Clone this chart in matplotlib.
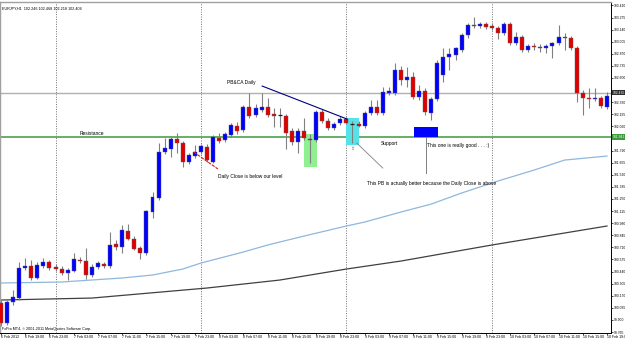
import matplotlib
matplotlib.use("Agg")
import matplotlib.pyplot as plt
from matplotlib.patches import Rectangle
import numpy as np

plt.rcParams['font.family'] = ['Liberation Sans', 'DejaVu Sans']

# ---- data (EURJPY H1, 6 Feb 15:00 -> 10 Feb 19:00) ----
opens = [100.089, 99.865, 100.100, 100.144, 100.479, 100.501, 100.368, 100.501, 100.546, 100.490,
         100.468, 100.423, 100.446, 100.568, 100.557, 100.401, 100.490, 100.524, 100.501, 100.747,
         100.714, 100.892, 100.803, 100.702, 100.647, 101.104, 101.260, 101.774, 101.807, 101.919,
         101.874, 101.662, 101.729, 101.774, 101.830, 101.662, 101.930, 101.908, 101.963, 102.064,
         102.019, 102.276, 102.187, 102.242, 102.276, 102.198, 102.187, 102.175, 102.008, 101.885,
         102.008, 101.919, 101.908, 102.220, 102.120, 102.042, 102.097, 102.142, 102.086, 102.086,
         102.064, 102.209, 102.276, 102.209, 102.432, 102.432, 102.689, 102.577, 102.611, 102.387,
         102.454, 102.209, 102.365, 102.633, 102.834, 102.856, 102.912, 103.079, 103.191, 103.180,
         103.202, 103.180, 103.158, 103.102, 103.202, 102.990, 103.057, 102.912, 102.957, 102.946,
         102.934, 102.957, 102.990, 103.057, 103.046, 102.934, 102.432, 102.376, 102.365, 102.376,
         102.280]
highs = [100.122, 100.122, 100.234, 100.546, 100.591, 100.568, 100.546, 100.591, 100.568, 100.524,
         100.501, 100.479, 100.647, 100.602, 100.702, 100.524, 100.557, 100.546, 100.881, 100.792,
         100.959, 100.970, 100.836, 100.725, 101.126, 101.327, 101.874, 101.930, 101.941, 101.986,
         101.896, 101.763, 101.852, 101.863, 101.863, 101.963, 101.986, 101.997, 102.097, 102.109,
         102.298, 102.432, 102.309, 102.432, 102.376, 102.265, 102.265, 102.198, 102.042, 102.042,
         102.153, 101.975, 102.242, 102.254, 102.153, 102.109, 102.175, 102.164, 102.120, 102.120,
         102.231, 102.354, 102.354, 102.499, 102.499, 102.767, 102.733, 102.722, 102.667, 102.521,
         102.488, 102.387, 102.800, 102.934, 102.934, 102.946, 103.102, 103.213, 103.280, 103.225,
         103.225, 103.213, 103.180, 103.225, 103.225, 103.113, 103.079, 102.979, 102.990, 102.979,
         102.979, 103.001, 103.191, 103.102, 103.068, 102.957, 102.466, 102.488, 102.488, 102.399,
         102.440]
lows = [99.832, 99.843, 100.066, 100.122, 100.457, 100.345, 100.356, 100.479, 100.457, 100.446,
        100.401, 100.345, 100.435, 100.535, 100.356, 100.379, 100.468, 100.479, 100.479, 100.680,
        100.647, 100.792, 100.680, 100.580, 100.624, 101.037, 101.238, 101.751, 101.718, 101.763,
        101.606, 101.640, 101.707, 101.751, 101.662, 101.651, 101.874, 101.885, 101.941, 101.975,
        101.997, 102.153, 102.164, 102.220, 102.164, 102.053, 102.053, 101.807, 101.852, 101.763,
        101.908, 101.651, 101.885, 102.097, 102.019, 102.019, 102.075, 102.086, 101.874, 102.053,
        102.042, 102.187, 102.187, 102.187, 102.410, 102.410, 102.521, 102.499, 102.365, 102.354,
        102.187, 102.131, 102.343, 102.555, 102.689, 102.800, 102.890, 103.046, 103.158, 103.158,
        103.146, 103.135, 103.035, 103.079, 102.968, 102.968, 102.890, 102.890, 102.912, 102.890,
        102.879, 102.823, 102.968, 102.912, 102.912, 102.332, 102.187, 102.265, 102.343, 102.265,
        102.250]
closes = [99.865, 100.100, 100.156, 100.479, 100.501, 100.368, 100.513, 100.546, 100.479, 100.468,
          100.423, 100.457, 100.580, 100.557, 100.401, 100.490, 100.535, 100.501, 100.736, 100.714,
          100.903, 100.803, 100.691, 100.647, 101.115, 101.272, 101.774, 101.818, 101.919, 101.874,
          101.662, 101.740, 101.774, 101.841, 101.684, 101.941, 101.896, 101.975, 102.075, 102.008,
          102.276, 102.175, 102.265, 102.276, 102.187, 102.175, 102.185, 101.986, 101.885, 102.008,
          101.930, 101.908, 102.220, 102.120, 102.042, 102.086, 102.142, 102.097, 102.081, 102.069,
          102.209, 102.276, 102.209, 102.443, 102.454, 102.689, 102.577, 102.611, 102.387, 102.454,
          102.220, 102.365, 102.767, 102.834, 102.867, 102.934, 103.079, 103.191, 103.180, 103.202,
          103.169, 103.158, 103.102, 103.202, 102.990, 103.057, 102.912, 102.957, 102.946, 102.934,
          102.957, 102.990, 103.057, 103.046, 102.934, 102.432, 102.376, 102.365, 102.376, 102.287,
          102.404]

# moving averages, read at selected bars
ma_fast_idx = [0, 10, 20, 25, 30, 33, 40, 44, 50, 57, 60, 66, 71, 76, 82, 88, 93, 100]
ma_fast_val = [100.312, 100.323, 100.368, 100.401, 100.468, 100.535, 100.658, 100.736, 100.836,
               100.948, 100.992, 101.104, 101.193, 101.316, 101.450, 101.573, 101.684, 101.729]
ma_slow_idx = [0, 15, 34, 46, 57, 66, 81, 100]
ma_slow_val = [100.122, 100.144, 100.256, 100.345, 100.468, 100.557, 100.736, 100.948]

resistance_level = 101.941
bid_level = 102.435

price_ticks = [99.765, 99.900, 100.035, 100.170, 100.305, 100.440, 100.575, 100.710, 100.845,
               100.980, 101.115, 101.250, 101.385, 101.520, 101.655, 101.790, 101.925, 102.060,
               102.195, 102.330, 102.465, 102.600, 102.735, 102.870, 103.005, 103.140, 103.275,
               103.410]
hidden_ticks = [101.925, 102.465]   # covered by the highlighted labels
time_tick_idx = list(range(0, 101, 4))
time_labels = ["6 Feb 2012", "6 Feb 19:00", "6 Feb 23:00", "7 Feb 03:00", "7 Feb 07:00",
               "7 Feb 11:00", "7 Feb 15:00", "7 Feb 19:00", "7 Feb 23:00", "8 Feb 03:00",
               "8 Feb 07:00", "8 Feb 11:00", "8 Feb 15:00", "8 Feb 19:00", "8 Feb 23:00",
               "9 Feb 03:00", "9 Feb 07:00", "9 Feb 11:00", "9 Feb 15:00", "9 Feb 19:00",
               "9 Feb 23:00", "10 Feb 03:00", "10 Feb 07:00", "10 Feb 11:00", "10 Feb 15:00",
               "10 Feb 19:00"]
day_separators = [9, 33, 57, 81]

# ---- figure ----
W, H = 625, 340
fig = plt.figure(figsize=(W / 100, H / 100), dpi=100)
ax = fig.add_axes([0, 7 / H, 611 / W, 331 / H])
ax.set_xlim(-0.165, 100.66)
ax.set_ylim(99.754, 103.448)

n = len(opens)
idx = np.arange(n)
o = np.array(opens); c = np.array(closes); hi = np.array(highs); lo = np.array(lows)

for x in day_separators:
    ax.axvline(x, color='#707070', lw=0.7, ls=(0, (1, 1.5)), zorder=1)

ax.axhline(bid_level, color='#b0b0b0', lw=1.0, zorder=1)
ax.axhline(resistance_level, color='#5aa85a', lw=1.3, zorder=2)

ax.plot(ma_fast_idx, ma_fast_val, color='#8fb8dc', lw=0.9, zorder=2)
ax.plot(ma_slow_idx, ma_slow_val, color='#404040', lw=0.9, zorder=2)

# annotation rectangles (behind candles)
ax.add_patch(Rectangle((49.95, 101.606), 2.15, 0.369, facecolor='#8ff08f', edgecolor='none', zorder=2.5))
ax.add_patch(Rectangle((57.0, 101.852), 2.1, 0.301, facecolor='#55e3e8', edgecolor='none', zorder=2.5))
ax.add_patch(Rectangle((68.2, 101.941), 3.9, 0.112, facecolor='#0000ff', edgecolor='none', zorder=2.5))

# candles
ax.vlines(idx, lo, hi, color='#808080', lw=0.8, zorder=3)
bw = 0.66
for i in range(n):
    if abs(c[i] - o[i]) < 0.006:
        ax.hlines((o[i] + c[i]) / 2, i - bw / 2, i + bw / 2, color='#202020', lw=0.9, zorder=4)
    else:
        col = '#0000ff' if c[i] > o[i] else '#e00000'
        ax.add_patch(Rectangle((i - bw / 2, min(o[i], c[i])), bw, abs(c[i] - o[i]),
                               facecolor=col, edgecolor='#606060', lw=0.3, zorder=4))

# lines
ax.plot([43.1, 57.1], [102.510, 102.142], color='#00007f', lw=0.8, zorder=5)
ax.plot([31.8, 35.8], [101.774, 101.584], color='#d02020', lw=0.8, ls=(0, (3, 1)), zorder=5)
ax.plot([58.7, 63.0], [101.874, 101.595], color='#808080', lw=0.6, zorder=5)
ax.plot([70.1, 70.1], [101.941, 101.539], color='#808080', lw=0.7, zorder=5)
ax.text(58.0, 101.84, "\u21e7", fontsize=3.5, color='#406080', ha='center', va='top', zorder=6,
        family=['DejaVu Sans'])

fs = 3.5
ax.text(37.3, 102.555, "PB&CA Daily", fontsize=fs, ha='left', va='center', zorder=6)
ax.text(13.0, 101.986, "Resistance", fontsize=fs, ha='left', va='center', zorder=6)
ax.text(35.8, 101.495, "Daily Close is below our level", fontsize=fs, ha='left', va='center', zorder=6)
ax.text(62.7, 101.874, "Support", fontsize=fs, ha='left', va='center', zorder=6)
ax.text(70.3, 101.852, "This one is really good . . . :)", fontsize=fs, ha='left', va='center', zorder=6)
ax.text(60.4, 101.428, "This PB is actually better because the Daily Close is above",
        fontsize=fs, ha='left', va='center', zorder=6)

ax.text(0.003, 0.985, "EURJPY,H1  102.246 102.468 102.218 102.404", transform=ax.transAxes,
        fontsize=2.7, ha='left', va='top', zorder=6)
ax.text(0.003, 0.006, "FxPro MT4, \u00a9 2001-2011 MetaQuotes Software Corp.", transform=ax.transAxes,
        fontsize=2.7, ha='left', va='bottom', zorder=6)

# axes styling
ax.yaxis.tick_right()
ax.set_yticks(price_ticks)
ax.set_yticklabels(["" if v in hidden_ticks else f"{v:.3f}" for v in price_ticks])
ax.tick_params(axis='y', labelsize=2.4, length=1.5, width=0.5, pad=0.5, direction='out')
ax.set_xticks(time_tick_idx)
ax.set_xticklabels(time_labels, ha='left')
ax.tick_params(axis='x', labelsize=2.6, length=1.5, width=0.5, pad=0.3, direction='out')
for s in ['top', 'left']:
    ax.spines[s].set_color('#a0a0a0')
    ax.spines[s].set_linewidth(1.0)
for s in ['right', 'bottom']:
    ax.spines[s].set_color('#000000')
    ax.spines[s].set_linewidth(0.7)

# highlighted price labels on the right scale
ax.text(1.003, bid_level, f"{bid_level:.3f}", transform=ax.get_yaxis_transform(), fontsize=2.4,
        color='white', ha='left', va='center', zorder=7, clip_on=False,
        bbox=dict(boxstyle='square,pad=0.2', facecolor='#303030', edgecolor='none'))
ax.text(1.003, resistance_level, f"{resistance_level:.3f}", transform=ax.get_yaxis_transform(),
        fontsize=2.4, color='white', ha='left', va='center', zorder=7, clip_on=False,
        bbox=dict(boxstyle='square,pad=0.2', facecolor='#3c9a3c', edgecolor='none'))

fig.savefig("out.png", dpi=100)
